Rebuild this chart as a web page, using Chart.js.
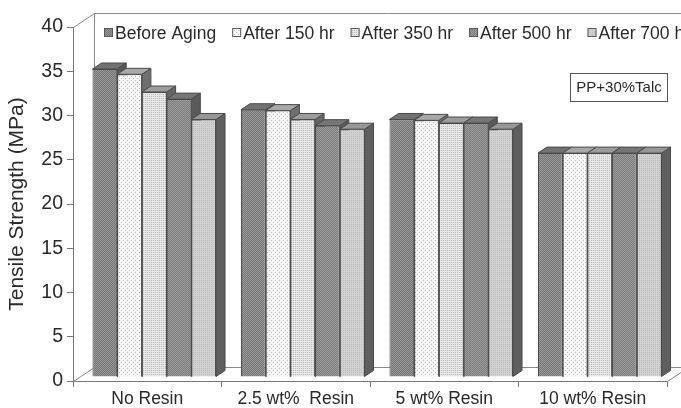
<!DOCTYPE html>
<html>
<head>
<meta charset="utf-8">
<script src="https://cdn.jsdelivr.net/npm/chart.js@4.4.1/dist/chart.umd.min.js"></script>
<style>
  html, body { margin: 0; padding: 0; background: #fff; }
  #wrap { width: 681px; height: 408px; }
</style>
</head>
<body>
<div id="wrap"><canvas id="myChart"></canvas></div>
<script>
// values (MPa)
const categories = ['No Resin', '2.5 wt%  Resin', '5 wt% Resin', '10 wt% Resin'];
const seriesNames = ['Before Aging', 'After 150 hr', 'After 350 hr', 'After 500 hr', 'After 700 hr'];
const beforeAging = [34.8, 30.2, 29.1, 25.3];
const after150 = [34.2, 30.1, 29.0, 25.3];
const after350 = [32.2, 29.1, 28.7, 25.3];
const after500 = [31.4, 28.4, 28.7, 25.3];
const after700 = [29.1, 28.0, 28.0, 25.3];
const yTicks = [0, 5, 10, 15, 20, 25, 30, 35, 40];
const noteText = 'PP+30%Talc';

const FONT = "'Liberation Sans', Arial, sans-serif";
Chart.defaults.font.family = FONT;

// 3d look: wall depth and bar depth
const WALL_DX = 21, WALL_DY = -14;
const BAR_DX = 7, BAR_DY = -4;
const FACE_DX = 9, FACE_DY = -6;

function makePattern(base, ink, kind) {
  const c = document.createElement('canvas');
  c.width = 4; c.height = 4;
  const g = c.getContext('2d');
  g.fillStyle = base;
  g.fillRect(0, 0, 4, 4);
  g.fillStyle = ink;
  if (kind === 'hatch') {
    for (let i = 0; i < 4; i++) { g.fillRect(i, i, 1, 1); g.fillRect((i + 2) % 4, i, 1, 1); }
  } else if (kind === 'dots') {
    g.fillRect(0, 0, 1, 1); g.fillRect(2, 2, 1, 1);
  } else {
    g.fillRect(0, 0, 1, 1); g.fillRect(2, 0, 1, 1); g.fillRect(0, 2, 1, 1); g.fillRect(2, 2, 1, 1);
  }
  return g.createPattern(c, 'repeat');
}

const looks = [
  {base: '#979797', ink: '#777777', kind: 'hatch', top: '#727272', side: '#585858'},
  {base: '#f8f8f8', ink: '#bbbbbb', kind: 'dots', top: '#a8a8a8', side: '#6f6f6f'},
  {base: '#e6e6e6', ink: '#bebebe', kind: 'fine', top: '#9c9c9c', side: '#666666'},
  {base: '#9c9c9c', ink: '#7d7d7d', kind: 'hatch', top: '#767676', side: '#5a5a5a'},
  {base: '#d2d2d2', ink: '#bbbbbb', kind: 'fine', top: '#979797', side: '#5f5f5f'}
];
const fills = looks.map(l => makePattern(l.base, l.ink, l.kind));
const seriesData = [beforeAging, after150, after350, after500, after700];

function poly(ctx, pts) {
  ctx.beginPath();
  ctx.moveTo(pts[0][0], pts[0][1]);
  for (let i = 1; i < pts.length; i++) ctx.lineTo(pts[i][0], pts[i][1]);
  ctx.closePath();
  ctx.fill();
  ctx.stroke();
}

const depthPlugin = {
  id: 'depth',
  beforeDatasetsDraw(chart) {
    const {ctx, chartArea: a} = chart;
    const L = Math.round(a.left) + 0.5, R = Math.round(a.right) + 0.5;
    const T = Math.round(a.top) + 0.5, B = Math.round(a.bottom) + 0.5;
    ctx.save();
    ctx.strokeStyle = '#8a8a8a';
    ctx.lineWidth = 1;
    ctx.beginPath();
    ctx.moveTo(L, T); ctx.lineTo(L + WALL_DX, T + WALL_DY);
    ctx.lineTo(R + WALL_DX, T + WALL_DY);
    ctx.moveTo(L + WALL_DX, T + WALL_DY); ctx.lineTo(L + WALL_DX, B + WALL_DY);
    ctx.lineTo(R + WALL_DX, B + WALL_DY);
    ctx.moveTo(L, B); ctx.lineTo(L + WALL_DX, B + WALL_DY);
    ctx.moveTo(R, B); ctx.lineTo(R + WALL_DX, B + WALL_DY);
    ctx.stroke();

    // bars sit a little behind the front plane
    ctx.translate(BAR_DX, BAR_DY);
    ctx.lineWidth = 1;
    ctx.strokeStyle = '#4a4a4a';
    chart.data.datasets.forEach((ds, i) => {
      const meta = chart.getDatasetMeta(i);
      meta.data.forEach(bar => {
        const p = bar.getProps(['x', 'y', 'base', 'width'], true);
        const l = p.x - p.width / 2, r = p.x + p.width / 2;
        ctx.fillStyle = looks[i].side;
        poly(ctx, [[r, p.y], [r + FACE_DX, p.y + FACE_DY], [r + FACE_DX, p.base + FACE_DY], [r, p.base]]);
        ctx.fillStyle = looks[i].top;
        poly(ctx, [[l, p.y], [l + FACE_DX, p.y + FACE_DY], [r + FACE_DX, p.y + FACE_DY], [r, p.y]]);
        bar.draw(ctx);
      });
    });
    ctx.restore();
    return false;
  },
  afterDraw(chart) {
    const {ctx, chartArea: a} = chart;
    ctx.save();
    // legend along the back wall
    ctx.font = '17.5px ' + FONT;
    ctx.textBaseline = 'middle';
    ctx.textAlign = 'left';
    let x = a.left + 31;
    const y = a.top + 6;
    seriesNames.forEach((name, i) => {
      ctx.fillStyle = fills[i];
      ctx.fillRect(x, y - 5, 9, 9);
      ctx.strokeStyle = '#5a5a5a';
      ctx.strokeRect(x + 0.5, y - 4.5, 8, 8);
      ctx.fillStyle = '#2a2a2a';
      ctx.fillText(name, x + 11, y + 1);
      x += 11 + ctx.measureText(name).width + 16;
    });
    // note box
    const bx = a.right - 97, by = a.top + 46;
    ctx.fillStyle = '#fff';
    ctx.fillRect(bx, by, 97, 28);
    ctx.strokeStyle = '#555';
    ctx.strokeRect(bx + 0.5, by + 0.5, 97, 28);
    ctx.font = '15px ' + FONT;
    ctx.fillStyle = '#2a2a2a';
    ctx.textAlign = 'center';
    ctx.fillText(noteText, bx + 49, by + 15);
    ctx.restore();
  }
};

new Chart('myChart', {
  type: 'bar',
  data: {
    labels: categories,
    datasets: seriesNames.map((name, i) => ({
      label: name,
      data: seriesData[i],
      backgroundColor: fills[i],
      borderColor: '#4a4a4a',
      borderWidth: 1,
      barPercentage: 1.0,
      categoryPercentage: 0.832
    }))
  },
  options: {
    responsive: true,
    maintainAspectRatio: false,
    animation: false,
    layout: {padding: {top: 27, right: 14, left: 0, bottom: 0}},
    plugins: {legend: {display: false}, tooltip: {enabled: false}},
    scales: {
      x: {
        grid: {drawOnChartArea: false, tickLength: 6, color: '#777'},
        border: {color: '#777'},
        ticks: {font: {size: 17.5}, color: '#2a2a2a', padding: 2, maxRotation: 0},
        afterFit(s) { s.height = 27; }
      },
      y: {
        min: 0, max: 40,
        afterBuildTicks(s) { s.ticks = yTicks.map(v => ({value: v})); },
        grid: {drawOnChartArea: false, tickLength: 6, color: '#777'},
        border: {color: '#777'},
        ticks: {font: {size: 19.5}, color: '#2a2a2a', padding: 4},
        title: {display: true, text: 'Tensile Strength (MPa)', font: {size: 21}, color: '#2a2a2a', padding: {top: 5, bottom: 0}},
        afterFit(s) { s.width = 73; }
      }
    }
  },
  plugins: [depthPlugin]
});
</script>
</body>
</html>
